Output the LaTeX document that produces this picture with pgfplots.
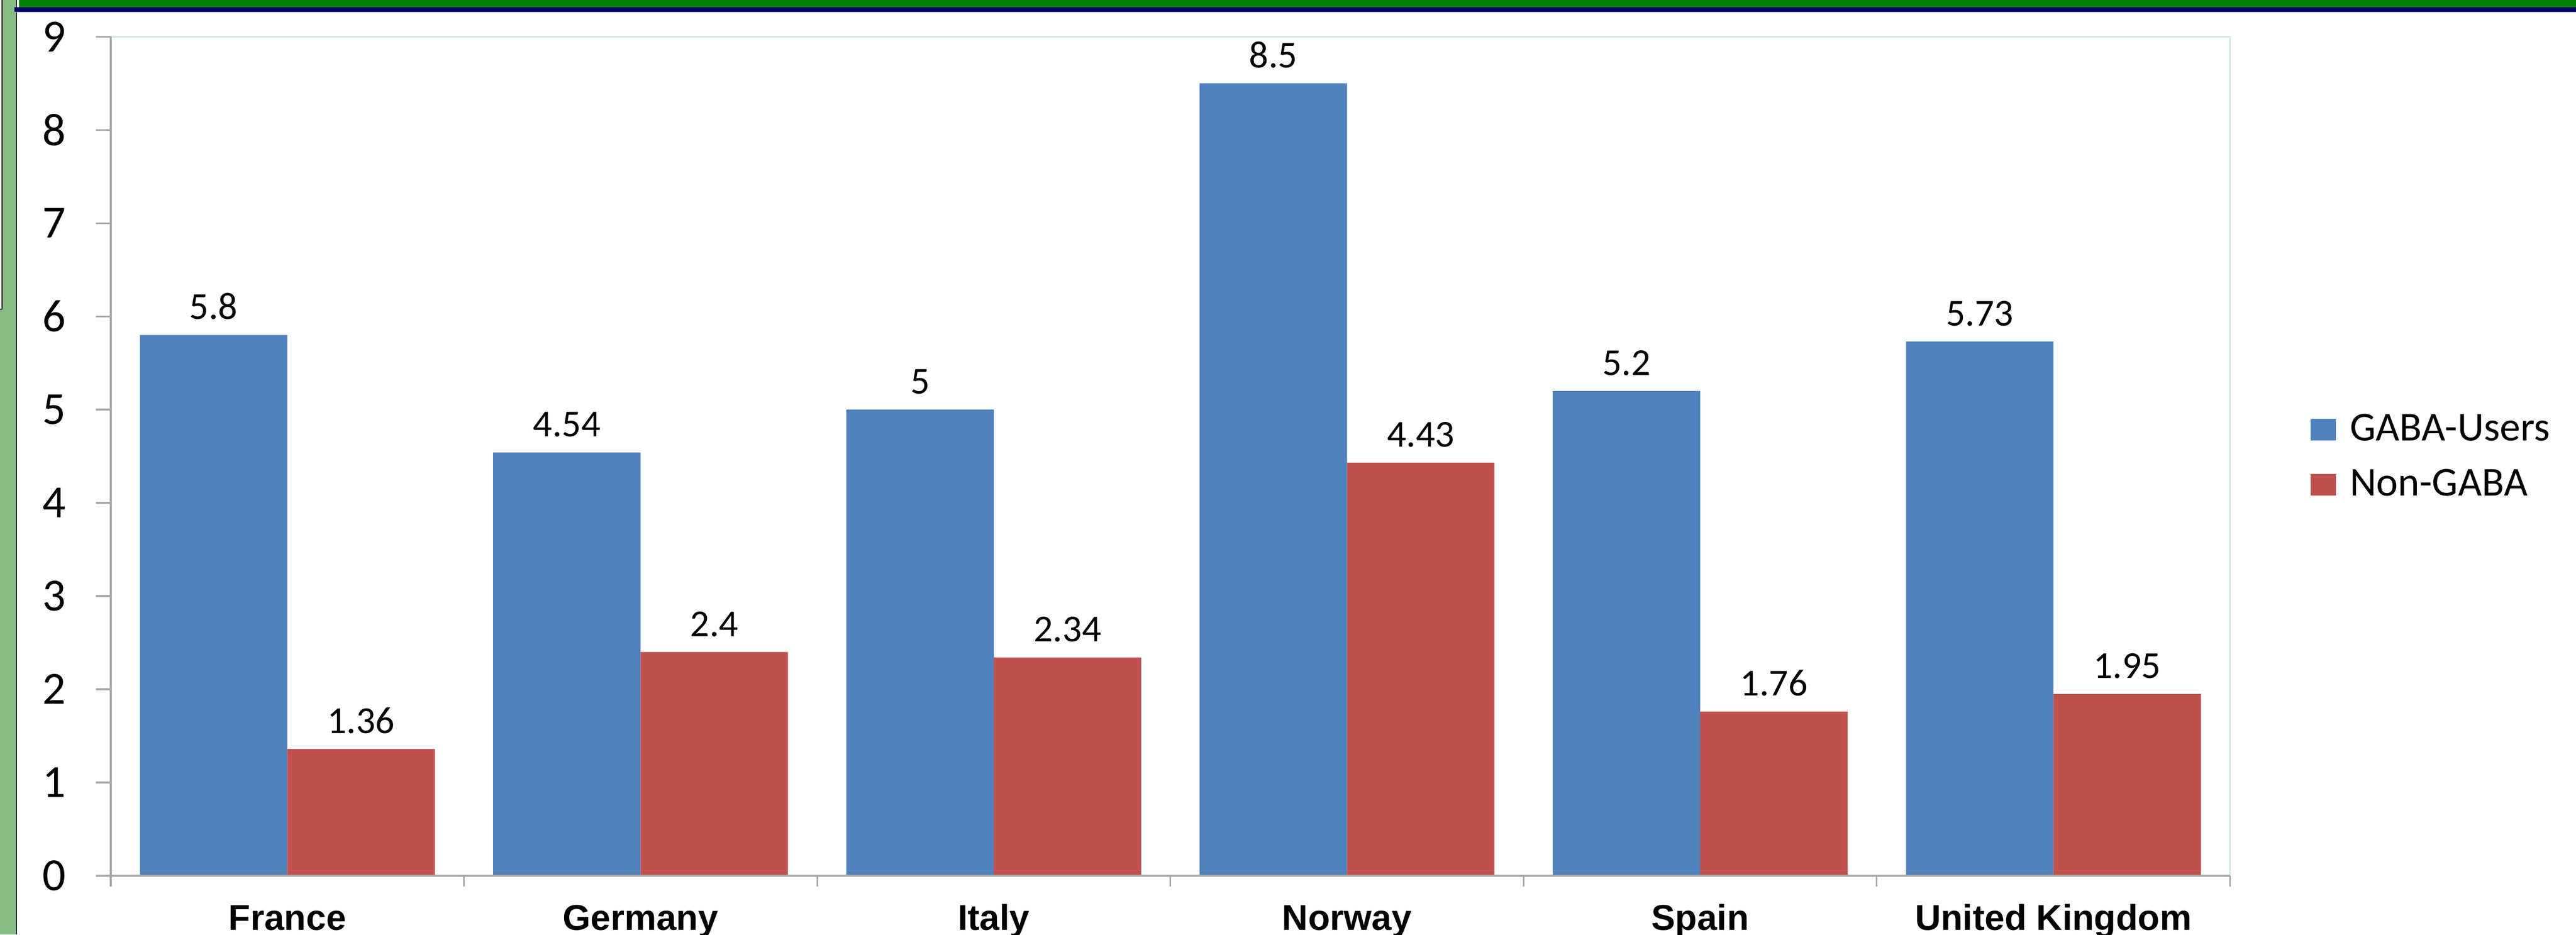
\documentclass[border=0pt]{standalone}
\usepackage{fontspec}
\setmainfont{Carlito}
\newfontfamily\arialfont{Liberation Sans}
\usepackage{pgfplots}
\usepackage{pgfplotstable}
\pgfplotsset{compat=1.18}
\pgfkeys{/pgf/number format/assume math mode=true}

\definecolor{gabablue}{HTML}{4F81BD}
\definecolor{nongabared}{HTML}{C0504D}
\definecolor{axisgrey}{HTML}{A6A6A6}
\definecolor{framecyan}{HTML}{CFE7EE}
\definecolor{slidegreen}{HTML}{008000}
\definecolor{slidenavy}{HTML}{000066}
\definecolor{stripgreen}{HTML}{88BA86}
\definecolor{lavender}{HTML}{A8A8D0}

% idx: category position, gaba: GABA-Users, non: Non-GABA
\pgfplotstableread{
idx gaba non
0   5.8   1.36
1   4.54  2.4
2   5     2.34
3   8.5   4.43
4   5.2   1.76
5   5.73  1.95
}\ratedata

\begin{document}
\begin{tikzpicture}
\useasboundingbox (-33.7pt,-17.9pt) rectangle (750.3pt,266.55pt);
% slide background bits
\fill[white] (-33.7pt,-17.9pt) rectangle (750.3pt,266.55pt);
\fill[stripgreen] (-33.7pt,-17.9pt) rectangle (-28.9pt,266.55pt);
\fill[white] (-33.7pt,172.4pt) rectangle (-33.05pt,266.55pt);
\draw[black,line width=0.3pt] (-33.05pt,266.55pt) -- (-33.05pt,172.4pt) -- (-33.7pt,172.4pt);
\draw[black!85,line width=0.4pt] (-28.7pt,-17.9pt) -- (-28.7pt,266.55pt);
\fill[lavender] (-29.3pt,262.75pt) rectangle (750.3pt,262.95pt);
\fill[slidenavy] (-29.3pt,262.95pt) rectangle (750.3pt,264.4pt);
\fill[slidegreen] (-27.9pt,264.4pt) rectangle (750.3pt,266.55pt);

\begin{axis}[
    at={(0,0)}, anchor=south west,
    scale only axis,
    width=645pt, height=255.4pt,
    xmin=-0.5, xmax=5.5,
    ymin=0, ymax=9,
    ybar=0pt, bar width=0.4174,
    clip=false,
    axis line style={draw=none},
    tick align=outside,
    xtick pos=bottom, ytick pos=left,
    major tick length=4.5pt,
    ytick={0,1,...,9},
    ytick style={draw=axisgrey, line width=0.5pt},
    yticklabel style={font=\fontsize{14}{16}\selectfont, anchor=east, inner sep=0pt, xshift=-9pt},
    xtick={0,...,5},
    xticklabels={France, Germany, Italy, Norway, Spain, United Kingdom},
    xtick style={draw=none},
    xticklabel style={font=\arialfont\bfseries\fontsize{10.9}{13}\selectfont, anchor=base, inner sep=0pt, yshift=-12pt},
    extra x ticks={-0.5,0.5,...,5.5},
    extra x tick labels={},
    extra x tick style={major tick length=3.3pt, every x tick/.style={draw=axisgrey, line width=0.5pt}},
    nodes near coords,
    every node near coord/.append style={font=\fontsize{11.6}{13}\selectfont, anchor=south, inner sep=0pt, yshift=4.5pt, text=black},
    legend cell align=left,
    legend style={at={(axis description cs:1.0378,0.4988)}, anchor=west, draw=none, fill=none,
        inner sep=0pt, row sep=0pt, font=\fontsize{12.5}{14}\selectfont,
        nodes={inner xsep=4.3pt, inner ysep=3.6pt}},
    legend image code/.code={\fill[#1] (0pt,-3.3pt) rectangle (7.6pt,3.3pt);},
]
\addplot[fill=gabablue, draw=none] table[x=idx, y=gaba] {\ratedata};
\addlegendentry{GABA-Users}
\addplot[fill=nongabared, draw=none] table[x=idx, y=non] {\ratedata};
\addlegendentry{Non-GABA}

% frame: light top/right, grey left/bottom
\draw[framecyan, line width=0.5pt] (rel axis cs:0,1) -- (rel axis cs:1,1) -- (rel axis cs:1,0);
\draw[axisgrey, line width=0.6pt] (rel axis cs:0,1) -- (rel axis cs:0,0) -- (rel axis cs:1,0);
\end{axis}
\end{tikzpicture}
\end{document}
